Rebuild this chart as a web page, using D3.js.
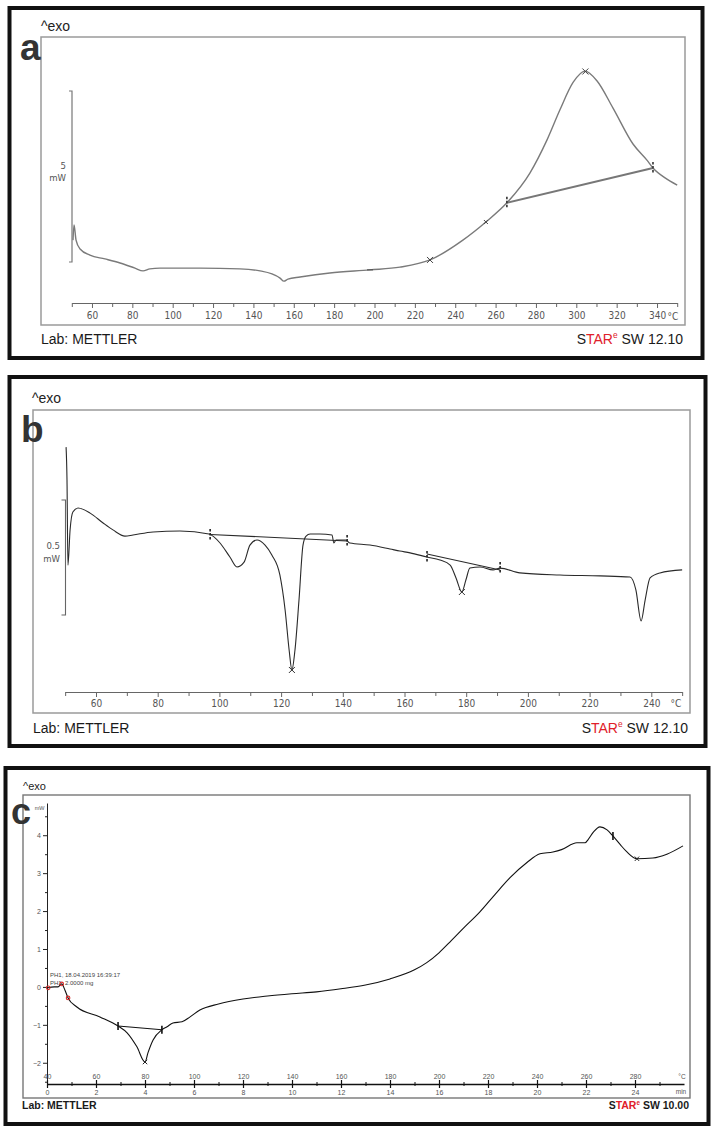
<!DOCTYPE html>
<html><head><meta charset="utf-8">
<script src="https://cdn.jsdelivr.net/npm/d3@7"></script>
<style>body{margin:0;background:#fff}svg{display:block}</style>
</head><body><svg id="chart" width="714" height="1130"></svg>
<script>
// ---------- Panel a data (°C vs mW) ----------
const aTemp = [50.6,51.1,52.1,54.1,59.0,66.4,73.9,81.3,85.3,88.7,93.7,113.5,133.3,143.3,149.2,153.2,155.1,157.1,163.1,177.9,197.8,212.6,227.5,243.8,255.2,265.6,277.0,285.5,291.9,298.4,304.3,310.2,318.2,328.1,335.0,338.0,344.0,350.0];
const aHeat = [0.64,1.08,0.64,0.38,0.20,0.09,-0.03,-0.18,-0.26,-0.20,-0.18,-0.18,-0.20,-0.26,-0.35,-0.47,-0.56,-0.50,-0.44,-0.32,-0.23,-0.15,0.06,0.64,1.17,1.73,2.60,3.57,4.45,5.25,5.58,5.30,4.50,3.45,2.98,2.75,2.46,2.25];
const aMajorTicks = [60,80,100,120,140,160,180,200,220,240,260,280,300,320,340];
const aMinorTicks = [50,70,90,110,130,150,170,190,210,230,250,270,290,310,330,350];
const aLimits = [265.6, 338.0];
const aCross = [227.5, 304.5];
const aSmallCross = [255.2];
const aDash = [197.8];
const aScaleBar = [0, 5];

// ---------- Panel b data (°C vs mW) ----------
const bTemp = [50.3,50.6,50.9,51.6,52.5,54.2,58.1,62.3,65.5,69.4,72.0,78.5,87.2,96.6,100.2,103.4,105.7,108.0,109.9,112.2,114.8,117.0,119.6,121.3,122.6,123.5,124.5,125.8,127.1,128.1,129.4,132.6,136.5,137.1,137.8,141.0,142.3,148.8,155.3,158.5,161.8,167.3,171.5,174.8,176.7,178.6,179.9,181.2,184.5,188.7,191.0,197.4,210.4,223.4,233.1,235.0,236.7,238.0,239.6,242.8,250.0];
const bHeat = [0.730,0.587,0.217,0.370,0.448,0.465,0.443,0.400,0.370,0.343,0.348,0.361,0.365,0.352,0.313,0.252,0.209,0.230,0.304,0.326,0.304,0.261,0.174,0.022,-0.152,-0.239,-0.152,0.065,0.304,0.343,0.352,0.352,0.348,0.313,0.326,0.326,0.313,0.304,0.287,0.278,0.270,0.252,0.239,0.217,0.161,0.100,0.152,0.204,0.209,0.196,0.204,0.183,0.174,0.170,0.165,0.109,-0.026,0.065,0.161,0.183,0.196];
const bMajorTicks = [60,80,100,120,140,160,180,200,220,240];
const bMinorTicks = [50,70,90,110,130,150,170,190,210,230,250];
const bBase1 = [[97.0,0.350],[141.4,0.322]];
const bBase2 = [[167.3,0.265],[191.0,0.196]];
const bLimits = [97.0, 141.4, 167.3, 191.0];
const bCross = [123.5, 178.6];
const bScaleBar = [0, 0.5];

// ---------- Panel c data (min vs mW) ----------
const cTime = [0,0.3,0.45,0.6,0.73,0.86,1.22,2.16,2.9,3.27,3.67,4.0,4.12,4.33,4.69,4.9,5.14,5.51,5.84,6.24,7,8,9,10,11,12,13,14,15,15.5,16,16.5,17,17.67,18.3,18.9,19.59,20.12,20.65,21.0,21.63,21.96,22.08,22.3,22.57,22.86,23.1,23.4,23.67,24.08,24.73,25.3,25.96];
const cHeat = [-0.03,0,0,0.08,-0.08,-0.29,-0.53,-0.79,-1.03,-1.21,-1.58,-1.98,-1.74,-1.40,-1.13,-1.05,-0.95,-0.92,-0.79,-0.61,-0.45,-0.32,-0.24,-0.18,-0.13,-0.05,0.05,0.21,0.45,0.64,0.90,1.22,1.55,1.98,2.45,2.88,3.28,3.51,3.56,3.62,3.80,3.80,3.88,4.08,4.22,4.14,3.98,3.75,3.56,3.38,3.40,3.50,3.72];
const cTimeTicks = [0,2,4,6,8,10,12,14,16,18,20,22,24];
const cTimeMinor = [1,3,5,7,9,11,13,15,17,19,21,23,25];
const cTempLabels = ["40","60","80","100","120","140","160","180","200","220","240","260","280"];
const cYTicks = [-2,-1,0,1,2,3,4];
const cYMinor = [-2.5,-1.5,-0.5,0.5,1.5,2.5,3.5,4.5];
const cBase = [[2.9,-1.03],[4.69,-1.13]];
const cLimits = [2.9, 4.69, 23.1];
const cCross = [4.0, 24.08];
const cRed = [0.05, 0.6, 0.86];
const cInfo = ["PH1, 18.04.2019 16:39:17", "PH1, 2.0000 mg"];

// ---------- drawing ----------
const svg = d3.select("#chart");
svg.append("rect").attr("width",714).attr("height",1130).attr("fill","#fff");
const narrow = "'Liberation Sans Narrow','DejaVu Sans Condensed','Liberation Sans',sans-serif";
const sans = "'Liberation Sans',Arial,sans-serif";

function crossPath(x,y,s){return `M${x-s},${y-s}L${x+s},${y+s}M${x-s},${y+s}L${x+s},${y-s}`;}
function limitMarker(g,x,y,col){
  g.append("line").attr("x1",x).attr("x2",x).attr("y1",y-6).attr("y2",y+6)
   .attr("stroke",col).attr("stroke-width",1.6).attr("stroke-dasharray","2.5,1.5");
}
function footer(g,xl,xr,y,size,bold,version){
  g.append("text").attr("x",xl).attr("y",y).attr("font-family",sans).attr("font-size",size)
   .attr("font-weight",bold?"bold":"normal").attr("fill","#1a1a1a").text("Lab: METTLER");
  const t = g.append("text").attr("x",xr).attr("y",y).attr("text-anchor","end").attr("font-family",sans)
   .attr("font-size",size).attr("font-weight",bold?"bold":"normal").attr("fill","#1a1a1a");
  t.append("tspan").text("S");
  t.append("tspan").attr("fill","#e0202a").text("TAR");
  t.append("tspan").attr("fill","#e0202a").attr("font-size",size*0.6).attr("dy",-size*0.4).text("e");
  t.append("tspan").attr("dy",size*0.4).text(" SW " + version);
}

// ===== Panel a =====
{
  const g = svg.append("g");
  g.append("rect").attr("x",9.5).attr("y",8).attr("width",693).attr("height",350)
   .attr("fill","none").attr("stroke","#111").attr("stroke-width",4);
  g.append("rect").attr("x",41).attr("y",37).attr("width",644).attr("height",288)
   .attr("fill","none").attr("stroke","#9a9a9a").attr("stroke-width",1.5);
  g.append("text").attr("x",20).attr("y",60).attr("font-family",sans).attr("font-weight","bold")
   .attr("font-size",37).attr("fill","#333").text("a");
  g.append("text").attr("x",41).attr("y",31).attr("font-family",sans).attr("font-size",14)
   .attr("fill","#222").text("^exo");

  const x = d3.scaleLinear().domain([50,350]).range([71.8,677.2]);
  const y = d3.scaleLinear().domain([0,5]).range([262,91]);

  const ax = g.append("g").attr("transform","translate(0,303)")
   .call(d3.axisBottom(x).tickValues(aMajorTicks).tickSize(5).tickPadding(4).tickSizeOuter(0));
  ax.select(".domain").attr("stroke","#666");
  ax.selectAll(".tick line").attr("stroke","#666");
  ax.selectAll("text").attr("font-family",narrow).attr("font-size",10).attr("fill","#555");
  const mx = g.append("g").attr("transform","translate(0,303)")
   .call(d3.axisBottom(x).tickValues(aMinorTicks).tickSize(4).tickFormat(""));
  mx.select(".domain").remove();
  mx.selectAll(".tick line").attr("stroke","#666");
  g.append("text").attr("x",673).attr("y",320).attr("text-anchor","middle").attr("font-family",narrow)
   .attr("font-size",10).attr("fill","#555").text("°C");

  // scale bar
  const sx = 72, y0 = y(aScaleBar[0]), y1 = y(aScaleBar[1]);
  g.append("path").attr("d",`M${sx-3},${y1}H${sx}V${y0}H${sx-3}`).attr("fill","none")
   .attr("stroke","#777").attr("stroke-width",1.2);
  const mid = (y0+y1)/2;
  g.append("text").attr("x",66).attr("y",mid-8).attr("text-anchor","end").attr("font-family",narrow)
   .attr("font-size",9.5).attr("fill","#555").text(String(aScaleBar[1]));
  g.append("text").attr("x",66).attr("y",mid+4).attr("text-anchor","end").attr("font-family",narrow)
   .attr("font-size",9.5).attr("fill","#555").text("mW");

  const pts = aTemp.map((t,i)=>[t,aHeat[i]]);
  const line = d3.line().x(d=>x(d[0])).y(d=>y(d[1])).curve(d3.curveMonotoneX);
  g.append("path").attr("d",line(pts)).attr("fill","none").attr("stroke","#7a7a7a").attr("stroke-width",1.4);

  const interp = d3.scaleLinear().domain(aTemp).range(aHeat);
  g.append("line").attr("x1",x(aLimits[0])).attr("y1",y(interp(aLimits[0])))
   .attr("x2",x(aLimits[1])).attr("y2",y(interp(aLimits[1])))
   .attr("stroke","#777").attr("stroke-width",2);
  aLimits.forEach(t=>limitMarker(g,x(t),y(interp(t)),"#333"));
  aCross.forEach(t=>g.append("path").attr("d",crossPath(x(t),y(interp(t)),3)).attr("stroke","#444").attr("stroke-width",1));
  aSmallCross.forEach(t=>g.append("path").attr("d",crossPath(x(t),y(interp(t)),2)).attr("stroke","#444").attr("stroke-width",1));
  aDash.forEach(t=>g.append("line").attr("x1",x(t)-3).attr("x2",x(t)+3).attr("y1",y(interp(t))).attr("y2",y(interp(t))).attr("stroke","#444"));

  footer(g,41,683,344,14,false,"12.10");
}

// ===== Panel b =====
{
  const g = svg.append("g");
  g.append("rect").attr("x",9.5).attr("y",377).attr("width",696).attr("height",369)
   .attr("fill","none").attr("stroke","#111").attr("stroke-width",4);
  g.append("rect").attr("x",33).attr("y",410).attr("width",657).attr("height",303)
   .attr("fill","none").attr("stroke","#9a9a9a").attr("stroke-width",1.5);
  g.append("text").attr("x",21).attr("y",442).attr("font-family",sans).attr("font-weight","bold")
   .attr("font-size",37).attr("fill","#333").text("b");
  g.append("text").attr("x",32).attr("y",403).attr("font-family",sans).attr("font-size",14)
   .attr("fill","#222").text("^exo");

  const x = d3.scaleLinear().domain([50,250]).range([65.15,682.15]);
  const y = d3.scaleLinear().domain([0,0.5]).range([615,500]);

  const ax = g.append("g").attr("transform","translate(0,692)")
   .call(d3.axisBottom(x).tickValues(bMajorTicks).tickSize(5).tickPadding(3).tickSizeOuter(0));
  ax.select(".domain").attr("stroke","#666");
  ax.selectAll(".tick line").attr("stroke","#666");
  ax.selectAll("text").attr("font-family",narrow).attr("font-size",10).attr("fill","#555");
  const mx = g.append("g").attr("transform","translate(0,692)")
   .call(d3.axisBottom(x).tickValues(bMinorTicks).tickSize(4).tickFormat(""));
  mx.select(".domain").remove();
  mx.selectAll(".tick line").attr("stroke","#666");
  g.append("text").attr("x",676).attr("y",707).attr("text-anchor","middle").attr("font-family",narrow)
   .attr("font-size",10).attr("fill","#555").text("°C");

  const sx = 65.5, y0 = y(bScaleBar[0]), y1 = y(bScaleBar[1]);
  g.append("path").attr("d",`M${sx-4},${y1}H${sx}V${y0}H${sx-4}`).attr("fill","none")
   .attr("stroke","#666").attr("stroke-width",1.1);
  const mid = (y0+y1)/2;
  g.append("text").attr("x",60).attr("y",mid-9).attr("text-anchor","end").attr("font-family",narrow)
   .attr("font-size",9.5).attr("fill","#555").text(String(bScaleBar[1]));
  g.append("text").attr("x",60).attr("y",mid+4).attr("text-anchor","end").attr("font-family",narrow)
   .attr("font-size",9.5).attr("fill","#555").text("mW");

  const pts = bTemp.map((t,i)=>[t,bHeat[i]]);
  const line = d3.line().x(d=>x(d[0])).y(d=>y(d[1])).curve(d3.curveMonotoneX);
  g.append("path").attr("d",line(pts)).attr("fill","none").attr("stroke","#2a2a2a").attr("stroke-width",1.1);

  [bBase1,bBase2].forEach(b=>g.append("line").attr("x1",x(b[0][0])).attr("y1",y(b[0][1]))
   .attr("x2",x(b[1][0])).attr("y2",y(b[1][1])).attr("stroke","#2a2a2a").attr("stroke-width",1.1));
  const interp = d3.scaleLinear().domain(bTemp).range(bHeat);
  bLimits.forEach(t=>limitMarker(g,x(t),y(interp(t)),"#222"));
  bCross.forEach(t=>g.append("path").attr("d",crossPath(x(t),y(interp(t)),3)).attr("stroke","#333").attr("stroke-width",1));

  footer(g,33,688,733,14,false,"12.10");
}

// ===== Panel c =====
{
  const g = svg.append("g");
  g.append("rect").attr("x",5.5).attr("y",768).attr("width",703).attr("height",356)
   .attr("fill","none").attr("stroke","#111").attr("stroke-width",4);
  g.append("rect").attr("x",23).attr("y",795).attr("width",667).attr("height",303)
   .attr("fill","none").attr("stroke","#777").attr("stroke-width",1.4);
  g.append("text").attr("x",11).attr("y",824).attr("font-family",sans).attr("font-weight","bold")
   .attr("font-size",36).attr("fill","#333").text("c");
  g.append("text").attr("x",23).attr("y",790).attr("font-family",sans).attr("font-size",11)
   .attr("fill","#222").text("^exo");

  const x = d3.scaleLinear().domain([0,26]).range([47,684]);
  const y = d3.scaleLinear().domain([-2.56,4.85]).range([1084,803]);

  // y axis
  const ay = g.append("g").attr("transform","translate(47,0)")
   .call(d3.axisLeft(y).tickValues(cYTicks).tickSize(4).tickPadding(2).tickSizeOuter(0));
  ay.select(".domain").attr("stroke","#222");
  ay.selectAll(".tick line").attr("stroke","#222");
  ay.selectAll("text").attr("font-family",sans).attr("font-size",7).attr("fill","#555");
  const my = g.append("g").attr("transform","translate(47,0)")
   .call(d3.axisLeft(y).tickValues(cYMinor).tickSize(2).tickFormat(""));
  my.select(".domain").remove();
  my.selectAll(".tick line").attr("stroke","#222");
  g.append("text").attr("x",44.5).attr("y",y(4.72)+2).attr("text-anchor","end").attr("font-family",sans)
   .attr("font-size",5.5).attr("fill","#555").text("mW");

  // x axis (time below, temperature above)
  const axb = g.append("g").attr("transform","translate(0,1084)")
   .call(d3.axisBottom(x).tickValues(cTimeTicks).tickSize(4).tickPadding(2).tickSizeOuter(0));
  axb.select(".domain").attr("stroke","#111").attr("stroke-width",1.3);
  axb.selectAll(".tick line").attr("stroke","#111").attr("stroke-width",1.2);
  axb.selectAll("text").attr("font-family",sans).attr("font-size",7).attr("fill","#555");
  const axt = g.append("g").attr("transform","translate(0,1084)")
   .call(d3.axisTop(x).tickValues(cTimeTicks).tickSize(4).tickPadding(1).tickSizeOuter(0)
     .tickFormat((d,i)=>cTempLabels[i]));
  axt.select(".domain").remove();
  axt.selectAll(".tick line").attr("stroke","#111").attr("stroke-width",1.2);
  axt.selectAll("text").attr("font-family",sans).attr("font-size",7).attr("fill","#555");
  const mxb = g.append("g").attr("transform","translate(0,1084)")
   .call(d3.axisBottom(x).tickValues(cTimeMinor).tickSize(2).tickFormat(""));
  mxb.select(".domain").remove();
  mxb.selectAll(".tick line").attr("stroke","#111");
  const mxt = g.append("g").attr("transform","translate(0,1084)")
   .call(d3.axisTop(x).tickValues(cTimeMinor).tickSize(2).tickFormat(""));
  mxt.select(".domain").remove();
  mxt.selectAll(".tick line").attr("stroke","#111");
  g.append("text").attr("x",682).attr("y",1079).attr("text-anchor","middle").attr("font-family",sans)
   .attr("font-size",6.5).attr("fill","#555").text("°C");
  g.append("text").attr("x",681).attr("y",1094).attr("text-anchor","middle").attr("font-family",sans)
   .attr("font-size",6.5).attr("fill","#555").text("min");

  // info text
  g.append("text").attr("x",50).attr("y",977).attr("font-family",sans).attr("font-size",6)
   .attr("fill","#444").text(cInfo[0]);
  g.append("text").attr("x",50).attr("y",984.5).attr("font-family",sans).attr("font-size",6)
   .attr("fill","#444").text(cInfo[1]);

  const pts = cTime.map((t,i)=>[t,cHeat[i]]);
  const line = d3.line().x(d=>x(d[0])).y(d=>y(d[1])).curve(d3.curveMonotoneX);
  g.append("path").attr("d",line(pts)).attr("fill","none").attr("stroke","#111").attr("stroke-width",1.1);

  g.append("line").attr("x1",x(cBase[0][0])).attr("y1",y(cBase[0][1]))
   .attr("x2",x(cBase[1][0])).attr("y2",y(cBase[1][1])).attr("stroke","#111").attr("stroke-width",1.1);
  const interp = d3.scaleLinear().domain(cTime).range(cHeat);
  cLimits.forEach(t=>g.append("line").attr("x1",x(t)).attr("x2",x(t)).attr("y1",y(interp(t))-4)
    .attr("y2",y(interp(t))+4).attr("stroke","#111").attr("stroke-width",1.6));
  cCross.forEach(t=>g.append("path").attr("d",crossPath(x(t),y(interp(t)),2.2)).attr("stroke","#222").attr("stroke-width",1));
  cRed.forEach(t=>g.append("circle").attr("cx",x(t)).attr("cy",y(interp(t))).attr("r",1.8)
    .attr("fill","none").attr("stroke","#d42a2a").attr("stroke-width",1.1));

  footer(g,22,689,1109,10.5,true,"10.00");
}
</script></body></html>
